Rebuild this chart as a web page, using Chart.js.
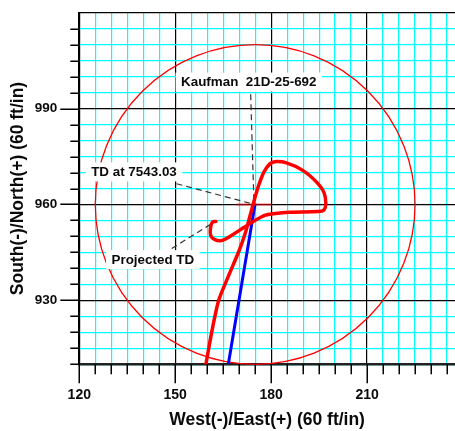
<!DOCTYPE html>
<html><head><meta charset="utf-8">
<script src="https://cdn.jsdelivr.net/npm/chart.js@4.4.0/dist/chart.umd.min.js"></script>
<style>html,body{margin:0;padding:0;background:#fff;}#wrap{width:455px;height:431px;position:relative;}</style>
</head><body><div id="wrap"><canvas id="c"></canvas></div>
<script>
// ---- data ----
const xRange = [120, 237.5];
const yRange = [910, 1020];
const xTickLabels = [120, 150, 180, 210];
const yTickLabels = [930, 960, 990];
const wellPathX = [159.6, 161.4, 163.6, 166.6, 170.0, 171.9, 173.0, 174.4, 175.9, 177.7, 179.6, 181.2, 184.8, 190.0, 194.2, 196.5, 197.1, 196.5, 194.7, 185.8, 180.6, 178.0, 174.9, 171.3, 167.1, 164.5, 162.4, 161.1, 161.1, 161.7, 162.7];
const wellPathY = [910.0, 920.0, 930.0, 937.5, 945.6, 951.0, 955.0, 960.2, 965.4, 970.1, 972.7, 973.4, 973.0, 970.6, 967.0, 963.8, 960.2, 958.3, 957.8, 957.6, 957.1, 956.6, 955.0, 952.7, 950.0, 948.75, 949.0, 950.3, 953.1, 954.5, 954.7];
const proposedX = [166.6, 175.0];
const proposedY = [910.0, 960.3];
const targetLineX = [169.2, 180.1];
const targetLineY = [960, 960];
const circleCenter = [175, 960];
const circleRadius = 50;
const labelTexts = ['Kaufman  21D-25-692', 'TD at 7543.03', 'Projected TD'];
const leaderLinesX = [[173.6, 174.6], [150.4, 173.3], [148.9, 162.0]];
const leaderLinesY = [[994.5, 961.0], [966.5, 960.4], [946.2, 954.4]];

// ---- helpers ----
const FONT = "'Liberation Sans', Arial, Helvetica, sans-serif";
const toPts = (xs, ys) => xs.map((x, i) => ({x: x, y: ys[i]}));
const isMajor = v => Math.abs(((v % 30) + 30) % 30) < 1e-6;

const circlePlugin = {
  id: 'circle',
  beforeDatasetsDraw(chart) {
    const {ctx, chartArea: a, scales: {x, y}} = chart;
    const cx = x.getPixelForValue(circleCenter[0]);
    const cy = y.getPixelForValue(circleCenter[1]);
    const rx = Math.abs(x.getPixelForValue(circleCenter[0] + circleRadius) - cx);
    const ry = Math.abs(y.getPixelForValue(circleCenter[1] + circleRadius) - cy);
    ctx.save();
    ctx.beginPath(); ctx.rect(a.left, a.top, a.right - a.left, a.bottom - a.top + 1); ctx.clip();
    ctx.beginPath(); ctx.ellipse(cx, cy, rx, ry, 0, 0, Math.PI * 2);
    ctx.strokeStyle = '#ff0000'; ctx.lineWidth = 1.3; ctx.stroke();
    ctx.restore();
  }
};

const labelPlugin = {
  id: 'wellLabels',
  afterDatasetsDraw(chart, args, opts) {
    const {ctx, scales: {x, y}} = chart;
    ctx.save();
    ctx.font = 'bold 13.4px ' + FONT;
    ctx.textAlign = 'center'; ctx.textBaseline = 'middle';
    opts.anchors.forEach((an, i) => {
      const px = x.getPixelForValue(an[0]), py = y.getPixelForValue(an[1]);
      const w = ctx.measureText(labelTexts[i]).width + 11, h = 19;
      ctx.fillStyle = '#fff'; ctx.fillRect(px - w / 2, py - h / 2, w, h);
      ctx.fillStyle = '#0a0a0a'; ctx.fillText(labelTexts[i], px, py + 0.5);
    });
    ctx.restore();
  }
};

const tickPlugin = {
  id: 'axisTicks',
  afterDraw(chart) {
    const {ctx, chartArea: a, scales: {x, y}} = chart;
    ctx.save(); ctx.strokeStyle = '#000'; ctx.lineWidth = 1.5; ctx.beginPath();
    x.ticks.forEach(t => {
      const px = Math.round(x.getPixelForValue(t.value)) + 0.25;
      const len = isMajor(t.value) ? 19 : 10;
      ctx.moveTo(px, a.bottom); ctx.lineTo(px, a.bottom + len);
    });
    y.ticks.forEach(t => {
      if (t.value >= yRange[1]) return;
      const py = Math.round(y.getPixelForValue(t.value)) + 0.25;
      const len = isMajor(t.value) ? 19 : 9;
      ctx.moveTo(a.left, py); ctx.lineTo(a.left - len, py);
    });
    ctx.stroke(); ctx.restore();
  }
};

const leaderSets = leaderLinesX.map((xs, i) => ({
  data: toPts(xs, leaderLinesY[i]), showLine: true, borderColor: '#333', borderWidth: 1.2,
  borderDash: [6, 4], pointRadius: 0, fill: false
}));

new Chart(document.getElementById('c'), {
  type: 'scatter',
  data: {
    datasets: [
      {label: 'well', data: toPts(wellPathX, wellPathY), showLine: true, borderColor: '#ff0000', borderWidth: 3.5, pointRadius: 0, tension: 0.25, fill: false, borderCapStyle: 'round', borderJoinStyle: 'round'},
      {label: 'target', data: toPts(targetLineX, targetLineY), showLine: true, borderColor: 'rgba(255,0,0,0.55)', borderWidth: 2, pointRadius: 0},
      {label: 'proposed', data: toPts(proposedX, proposedY), showLine: true, borderColor: '#0000ff', borderWidth: 3, pointRadius: 0},
      ...leaderSets
    ]
  },
  options: {
    responsive: true, maintainAspectRatio: false, animation: false,
    layout: {padding: {top: 12.7, left: 0, right: 0, bottom: 0}},
    plugins: {
      legend: {display: false}, tooltip: {enabled: false},
      wellLabels: {anchors: [[173.0, 998.3], [137.1, 970.2], [143.0, 942.75]]}
    },
    scales: {
      x: {
        type: 'linear', min: xRange[0], max: xRange[1],
        afterFit(s) { s.height = 66.7; },
        ticks: {stepSize: 5, includeBounds: false, autoSkip: false, maxRotation: 0, padding: 0,
          font: {family: FONT, size: 14, weight: 'bold'}, color: '#0a0a0a',
          callback: v => xTickLabels.includes(v) ? String(v) : ''},
        grid: {color: c => isMajor(c.tick.value) ? '#000' : '#00ffff', lineWidth: 1.2,
          drawTicks: true, tickLength: 22, tickColor: 'rgba(0,0,0,0)'},
        border: {display: true, color: '#222', width: 2.5},
        title: {display: true, text: 'West(-)/East(+) (60 ft/in)', color: '#0a0a0a',
          font: {family: FONT, size: 17.5, weight: 'bold', lineHeight: 1.2}, padding: {top: 0, bottom: 0}}
      },
      y: {
        type: 'linear', min: yRange[0], max: yRange[1],
        afterFit(s) { s.width = 79.3; },
        ticks: {stepSize: 5, autoSkip: false, padding: 0,
          font: {family: FONT, size: 13.5, weight: 'bold'}, color: '#0a0a0a',
          callback: v => yTickLabels.includes(v) ? String(v) : ''},
        grid: {color: c => isMajor(c.tick.value) ? '#000' : '#00ffff', lineWidth: 1.2,
          drawTicks: true, tickLength: 22, tickColor: 'rgba(0,0,0,0)'},
        border: {display: true, color: '#000', width: 2},
        title: {display: true, text: 'South(-)/North(+) (60 ft/in)', color: '#0a0a0a',
          font: {family: FONT, size: 17.5, weight: 'bold', lineHeight: 1.2}, padding: {top: 7.5, bottom: 0}}
      }
    }
  },
  plugins: [circlePlugin, labelPlugin, tickPlugin]
});
</script></body></html>
